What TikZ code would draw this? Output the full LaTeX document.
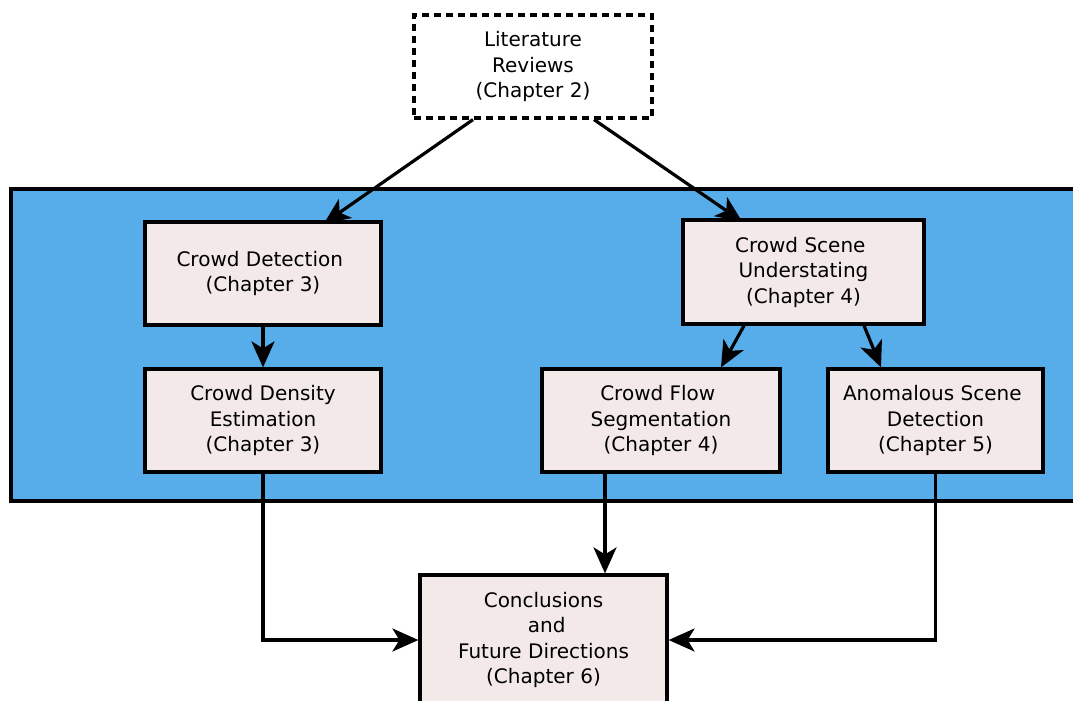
\documentclass[tikz,border=0pt]{standalone}
\usepackage{fontspec}
\setmainfont{DejaVu Sans}
\usetikzlibrary{arrows.meta,calc}
\definecolor{panelblue}{RGB}{87,172,234}
\definecolor{boxfill}{RGB}{243,233,233}
% visible word space kept at a line end
\newcommand\wsp{\hspace*{6.4pt}}
\begin{document}
\begin{tikzpicture}[x=1pt,y=-1pt,
  chapbox/.style={draw=black,line width=3.2pt,fill=boxfill,rectangle,
    align=center,inner sep=0pt,font=\fontsize{20}{25.5}\selectfont},
  arr/.style={line width=3.2pt,-{Stealth[length=26pt,width=23pt,inset=7pt]}}]
\useasboundingbox (0,0) rectangle (1073,701);

% grouping panel for chapters 3 to 5
\draw[line width=3.2pt,fill=panelblue] (11,189) rectangle (1085,501);

\node[chapbox,fill=white,dashed,dash pattern=on 7pt off 5pt,
  minimum width=238pt,minimum height=103pt] (lit) at (533,66.5)
  {Literature\\Reviews\\(Chapter 2)};
\node[chapbox,minimum width=236pt,minimum height=103pt] (cd) at (263,273.5)
  {Crowd Detection\wsp\\(Chapter 3)};
\node[chapbox,minimum width=236pt,minimum height=103pt] (dens) at (263,420.5)
  {Crowd Density\\Estimation\\(Chapter 3)};
\node[chapbox,minimum width=241pt,minimum height=104pt] (cs) at (803.5,272)
  {Crowd Scene\wsp\\Understating\\(Chapter 4)};
\node[chapbox,minimum width=238pt,minimum height=103pt] (flow) at (661,420.5)
  {Crowd Flow\wsp\\Segmentation\\(Chapter 4)};
\node[chapbox,minimum width=215pt,minimum height=103pt] (anom) at (935.5,420.5)
  {Anomalous Scene\wsp\\Detection\\(Chapter 5)};
\node[chapbox,minimum width=247pt,minimum height=130pt] (conc) at (543.5,640)
  {Conclusions\\\wsp and\\Future Directions\\(Chapter 6)};

% connectors
\draw[arr] ([xshift=-60pt]lit.south) -- ([xshift=61pt,yshift=-3pt]cd.north);
\draw[arr] ([xshift=61pt]lit.south) -- ([xshift=-61.5pt,yshift=-3pt]cs.north);
\draw[arr] (cd.south) -- (dens.north);
\draw[arr] ([xshift=-59.5pt]cs.south) -- ([xshift=60pt]flow.north);
\draw[arr] ([xshift=60.5pt]cs.south) -- ([xshift=-54.5pt]anom.north);
\draw[arr] (dens.south) -- (dens.south |- conc.west) -- (conc.west);
\draw[arr] ([xshift=-56pt]flow.south) -- ([xshift=61.5pt]conc.north);
\draw[arr] (anom.south) -- (anom.south |- conc.east) -- (conc.east);
\end{tikzpicture}
\end{document}
